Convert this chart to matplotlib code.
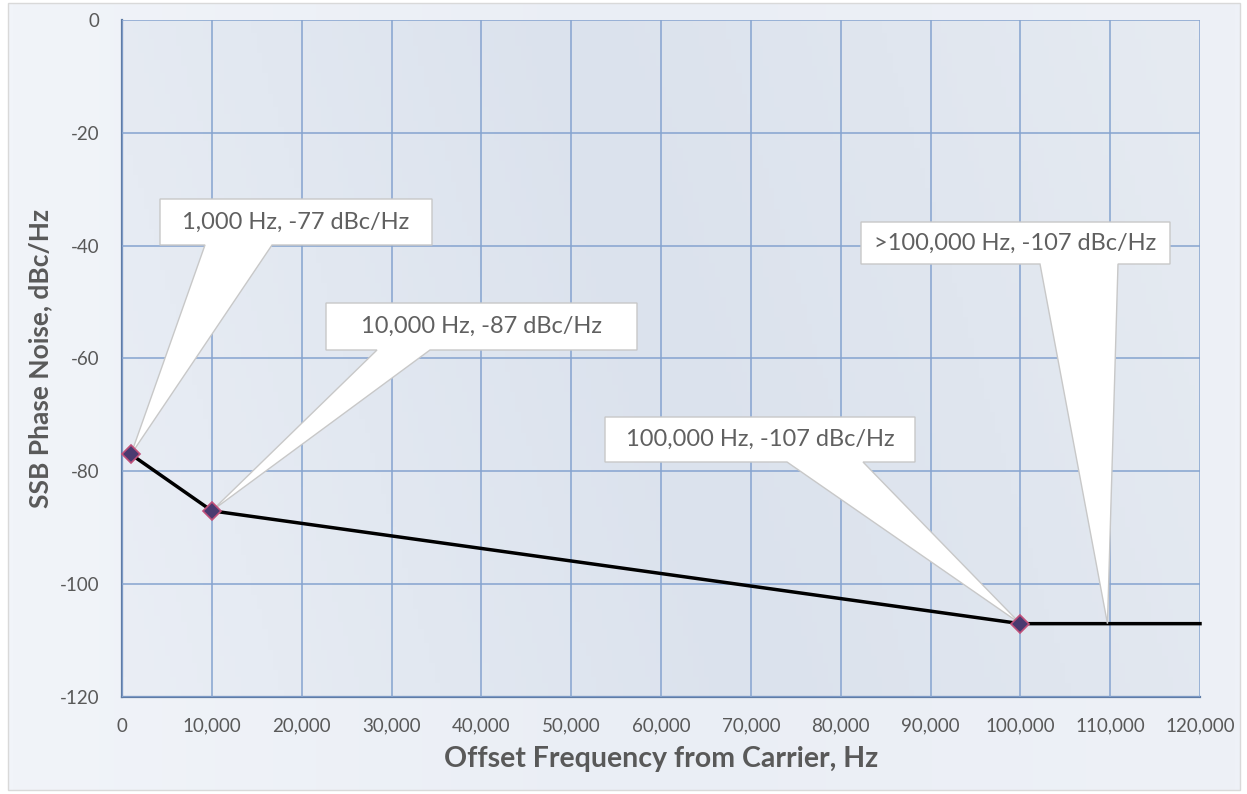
import numpy as np
import matplotlib
matplotlib.use('Agg')
import matplotlib.pyplot as plt
from matplotlib.patches import Polygon, Rectangle
from matplotlib.transforms import Affine2D
from matplotlib.ticker import FuncFormatter
from matplotlib.colors import LinearSegmentedColormap

plt.rcParams['axes.unicode_minus'] = False
plt.rcParams['font.family'] = ['Lato', 'DejaVu Sans']

# Data
freq_hz = [1000, 10000, 100000, 120000]
noise_dbc = [-77, -87, -107, -107]
marked = 3  # markers on the first three points only

labels = ["1,000 Hz, -77 dBc/Hz", "10,000 Hz, -87 dBc/Hz",
          "100,000 Hz, -107 dBc/Hz", ">100,000 Hz, -107 dBc/Hz"]
# where each callout points (x, y in data)
label_anchor_x = [1000, 10000, 100000, 109700]
label_anchor_y = [-77, -87, -107, -107]

W, H = 1247, 794
fig = plt.figure(figsize=(W / 100, H / 100), dpi=100)
fig.patch.set_facecolor('white')

# pixel transform (origin top-left)
px = Affine2D().scale(1 / 100, -1 / 100).translate(0, H / 100) + fig.dpi_scale_trans

# chart area background
bg = fig.add_axes([0, 0, 1, 1], zorder=-2)
bg.set_xlim(0, W)
bg.set_ylim(H, 0)
bg.axis('off')
g = np.linspace(0, 1, 256)
grad = np.outer(np.ones(10), g)
cm_bg = LinearSegmentedColormap.from_list('bg', ['#f1f4f9', '#eaeef5', '#eef1f7'])
bg.imshow(grad, cmap=cm_bg, extent=[8, 1240, 790, 3], aspect='auto', zorder=0)
bg.add_patch(Rectangle((8, 3), 1232, 787, fill=False, ec='#d9d9d9', lw=1))

ax = fig.add_axes([122 / W, 1 - 697 / H, 1078 / W, 677 / H])
ax.patch.set_alpha(0)
cm_pa = LinearSegmentedColormap.from_list('pa', ['#eaeef5', '#e2e8f1', '#dbe2ed', '#e0e6ef', '#e6ebf2'])
yy, xx = np.mgrid[0:1:100j, 0:1:200j]
ax.imshow(xx * 0.85 + (1 - yy) * 0.15, cmap=cm_pa, extent=[0, 120000, -120, 0],
          aspect='auto', zorder=0)

ax.set_xlim(0, 120000)
ax.set_ylim(-120, 0)
ax.set_xticks(np.arange(0, 120001, 10000))
ax.set_yticks(np.arange(-120, 1, 20))
ax.xaxis.set_major_formatter(FuncFormatter(lambda v, p: f"{int(v):,}"))
ax.grid(True, color='#85a3cf', lw=1.1, zorder=1)
ax.set_axisbelow(False)
for s in ['top', 'right']:
    ax.spines[s].set_visible(False)
for s in ['left', 'bottom']:
    ax.spines[s].set_color('#5f7ca6')
    ax.spines[s].set_linewidth(1.6)
    ax.spines[s].set_zorder(2)
ax.tick_params(length=0, labelsize=13.5, labelcolor='#595959')
ax.tick_params(axis='y', pad=16)
ax.tick_params(axis='x', pad=15)

ax.set_xlabel("Offset Frequency from Carrier, Hz", fontsize=20.5, fontweight='bold',
              color='#595959', labelpad=8)
ax.set_ylabel("SSB Phase Noise, dBc/Hz", fontsize=19, fontweight='bold',
              color='#595959', labelpad=6)

ax.plot(freq_hz, noise_dbc, color='black', lw=2.5, zorder=3, clip_on=False)

# callouts: box (left, top, right, bottom) and pointer base (x0, x1) in pixels
boxes = [(160, 199, 432, 245), (326, 303, 637, 350), (605, 417, 915, 462), (861, 222, 1170, 264)]
bases = [(205, 272), (377, 430), (787, 863), (1040, 1118)]
for i, lab in enumerate(labels):
    l, t, r, b = boxes[i]
    b0, b1 = bases[i]
    tip = ax.transData.transform((label_anchor_x[i], label_anchor_y[i]))
    tx, ty = tip[0], H - tip[1]
    pts = [(l, t), (r, t), (r, b), (b1, b), (tx, ty), (b0, b), (l, b)]
    ax.add_patch(Polygon(pts, closed=True, transform=px, fc='white', ec='#c8c8c8',
                         lw=1, clip_on=False, zorder=4))
    ax.text((l + r) / 2, (t + b) / 2, lab, transform=px, ha='center', va='center',
            fontsize=17, color='#606060', zorder=5)

ax.plot(freq_hz[:marked], noise_dbc[:marked], ls='none', marker='D', ms=9,
        mfc='#4a3a70', mec='#c0507a', mew=1.2, zorder=6, clip_on=False)

fig.savefig('out.png', dpi=100, facecolor=fig.get_facecolor())
